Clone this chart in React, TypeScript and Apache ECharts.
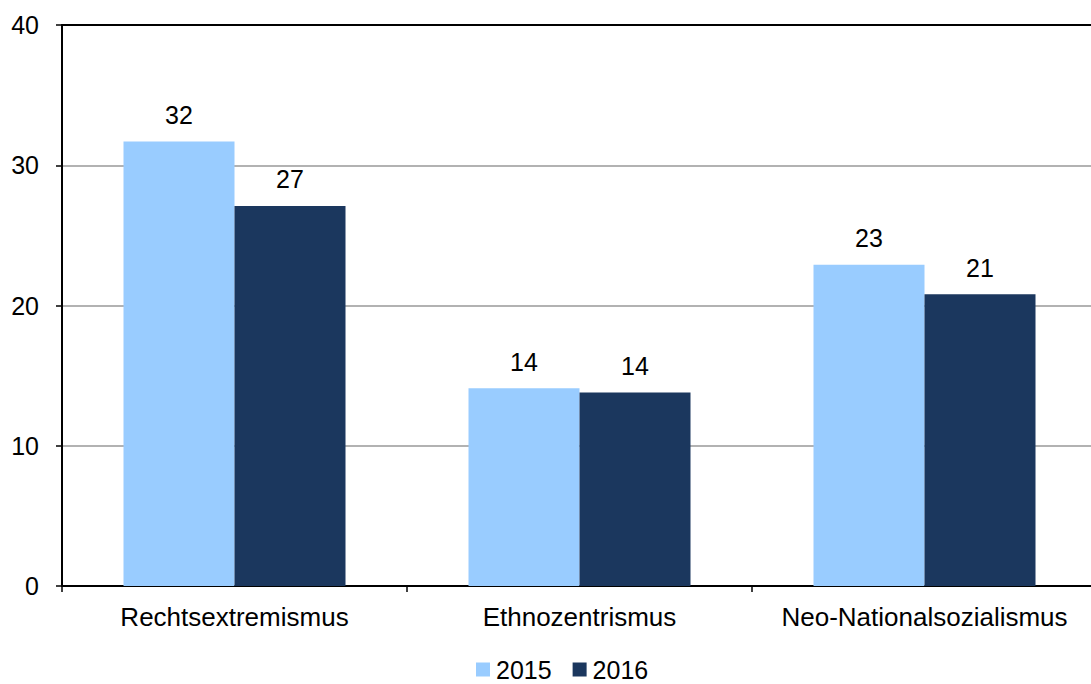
import React, { useEffect, useRef } from "react";
import * as echarts from "echarts";

const categories = ["Rechtsextremismus", "Ethnozentrismus", "Neo-Nationalsozialismus"];
const series2015 = [31.7, 14.1, 22.9];
const series2016 = [27.1, 13.8, 20.8];
const seriesNames = ["2015", "2016"];
const colors = ["#99CCFF", "#1B375E"];

const FONT = "Liberation Sans, Arial, sans-serif";

export default function App() {
  const ref = useRef<HTMLDivElement>(null);
  useEffect(() => {
    if (!ref.current) return;
    const chart = echarts.init(ref.current, undefined, { renderer: "svg" });
    const label = {
      show: true,
      position: "top",
      distance: 14,
      color: "#000",
      fontSize: 25,
      fontFamily: FONT,
      formatter: (p: any) => String(Math.round(p.value)),
    };
    chart.setOption({
      animation: false,
      textStyle: { fontFamily: FONT },
      grid: {
        left: 62,
        top: 25,
        width: 1035,
        height: 561,
        containLabel: false,
        outerBoundsMode: "none",
      },
      legend: {
        top: 657,
        left: 476,
        padding: 0,
        itemWidth: 14,
        itemHeight: 14,
        itemGap: 21,
        icon: "rect",
        textStyle: { fontSize: 25, lineHeight: 24, color: "#000", fontFamily: FONT, padding: [0, 0, 0, 1] },
        data: seriesNames,
      },
      xAxis: [
        {
          type: "category",
          data: categories,
          axisLine: { lineStyle: { color: "#000", width: 2 } },
          axisTick: { show: true, length: 6, lineStyle: { color: "#000", width: 1.5 } },
          axisLabel: { interval: 0, hideOverlap: false, fontSize: 26, color: "#000", margin: 18, fontFamily: FONT },
        },
        {
          type: "category",
          data: categories,
          position: "top",
          axisLine: { lineStyle: { color: "#000", width: 2 } },
          axisTick: { show: false },
          axisLabel: { show: false },
        },
      ],
      yAxis: {
        type: "value",
        min: 0,
        max: 40,
        interval: 10,
        axisLine: { show: true, lineStyle: { color: "#000", width: 2 } },
        axisTick: { show: true, length: 6, lineStyle: { color: "#000", width: 1.5 } },
        axisLabel: { fontSize: 25, color: "#000", margin: 23, fontFamily: FONT },
        splitLine: { show: true, lineStyle: { color: "#999999", width: 1.5 } },
      },
      series: [
        {
          name: seriesNames[0],
          type: "bar",
          data: series2015,
          barWidth: 111,
          barGap: "0%",
          itemStyle: { color: colors[0] },
          label,
        },
        {
          name: seriesNames[1],
          type: "bar",
          data: series2016,
          barWidth: 111,
          barGap: "0%",
          itemStyle: { color: colors[1] },
          label,
        },
      ],
    });
    return () => chart.dispose();
  }, []);
  return (
    <div
      ref={ref}
      style={{ position: "absolute", left: 0, top: 0, width: 1091, height: 684, background: "#fff" }}
    />
  );
}
